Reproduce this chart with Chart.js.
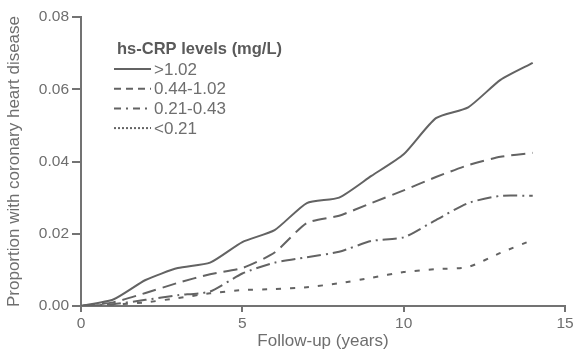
<!DOCTYPE html>
<html>
<head>
<meta charset="utf-8">
<script src="https://cdn.jsdelivr.net/npm/chart.js@4"></script>
<style>
  body { margin: 0; background: #fff; }
  #wrap { width: 576px; height: 352px; }
</style>
</head>
<body>
<div id="wrap"><canvas id="chd" width="576" height="352"></canvas></div>
<script>
// years of follow-up
var years = [0, 1, 2, 3, 4, 5, 6, 7, 8, 9, 10, 11, 12, 13, 14];

// cumulative proportion with CHD, by hs-CRP level
var crpHigh = [0, 0.0018, 0.0072, 0.0105, 0.012, 0.0177, 0.021, 0.0285, 0.030, 0.036, 0.042, 0.052, 0.055, 0.0626, 0.0673];
var crpMidHigh = [0, 0.001, 0.0036, 0.0064, 0.0088, 0.0105, 0.0148, 0.023, 0.025, 0.0285, 0.032, 0.0357, 0.039, 0.0413, 0.0424];
var crpMidLow = [0, 0.0005, 0.0017, 0.003, 0.004, 0.009, 0.012, 0.0135, 0.015, 0.018, 0.019, 0.0238, 0.0285, 0.0305, 0.0305];
var crpLow = [0, 0.0004, 0.001, 0.0022, 0.0035, 0.0044, 0.0047, 0.0052, 0.0063, 0.0078, 0.0094, 0.0102, 0.0108, 0.0147, 0.0183];

var groupLabels = ['>1.02', '0.44-1.02', '0.21-0.43', '<0.21'];
var legendTitle = 'hs-CRP levels (mg/L)';

var yTicks = [0, 0.02, 0.04, 0.06, 0.08];
var xTicks = [0, 5, 10, 15];

var grey = '#636363';
var axisGrey = '#737373';
var textGrey = '#6e6e6e';
var fontFam = '"Liberation Sans", Arial, sans-serif';

function toPoints(vals) {
    return vals.map(function(v, i) { return { x: years[i], y: v }; });
}

// dash pattern in plot, and a shorter one for the legend sample
var dashes = [[], [14, 7], [14, 5, 2, 5], [5, 9]];
var legendDashes = [[], [7, 5], [7, 5, 2, 5], [2, 2]];
var allSeries = [crpHigh, crpMidHigh, crpMidLow, crpLow];

var datasets = allSeries.map(function(s, i) {
    return {
        label: groupLabels[i],
        data: toPoints(s),
        borderColor: grey,
        borderWidth: 2,
        borderDash: dashes[i],
        pointRadius: 0,
        tension: 0.2,
        fill: false
    };
});

// legend drawn inside the plot area, top left
var insideLegend = {
    id: 'insideLegend',
    afterDraw: function(chart) {
        var ctx = chart.ctx;
        var a = chart.chartArea;
        var x0 = a.left + 36;
        var y0 = a.top + 32;
        ctx.save();
        ctx.fillStyle = '#5a5a5a';
        ctx.textBaseline = 'middle';
        ctx.font = 'bold 16.5px ' + fontFam;
        ctx.fillText(legendTitle, x0, y0);
        ctx.font = '17px ' + fontFam;
        groupLabels.forEach(function(lab, i) {
            var y = y0 + 20 + i * 19.7;
            ctx.strokeStyle = grey;
            ctx.lineWidth = 2;
            ctx.setLineDash(legendDashes[i]);
            ctx.beginPath();
            ctx.moveTo(x0 - 3, y);
            ctx.lineTo(x0 + 34, y);
            ctx.stroke();
            ctx.fillStyle = textGrey;
            ctx.fillText(lab, x0 + 37, y + 1);
        });
        ctx.restore();
    }
};

var ctx = document.getElementById('chd').getContext('2d');
var myChart = new Chart(ctx, {
    type: 'line',
    data: { datasets: datasets },
    plugins: [insideLegend],
    options: {
        responsive: false,
        animation: false,
        layout: { padding: { top: 17, right: 11, left: 4, bottom: 0 } },
        plugins: {
            legend: { display: false },
            tooltip: { enabled: false }
        },
        scales: {
            x: {
                type: 'linear',
                min: 0,
                max: 15,
                afterBuildTicks: function(scale) {
                    scale.ticks = xTicks.map(function(v) { return { value: v }; });
                },
                afterFit: function(scale) { scale.height = 46; },
                border: { color: axisGrey, width: 2 },
                grid: { drawOnChartArea: false, drawTicks: true, tickLength: 6, color: axisGrey, lineWidth: 2 },
                ticks: { color: textGrey, font: { family: fontFam, size: 15.5 }, padding: 2, maxRotation: 0 },
                title: { display: true, text: 'Follow-up (years)', color: textGrey, font: { family: fontFam, size: 17 }, padding: { top: -2, bottom: 0 } }
            },
            y: {
                min: 0,
                max: 0.08,
                afterBuildTicks: function(scale) {
                    scale.ticks = yTicks.map(function(v) { return { value: v }; });
                },
                afterFit: function(scale) { scale.width = 77; },
                border: { color: axisGrey, width: 2 },
                grid: { drawOnChartArea: false, drawTicks: true, tickLength: 9, color: axisGrey, lineWidth: 2 },
                ticks: {
                    color: textGrey,
                    font: { family: fontFam, size: 15.5 },
                    padding: 3,
                    callback: function(v) { return v.toFixed(2); }
                },
                title: { display: true, text: 'Proportion with coronary heart disease', color: textGrey, font: { family: fontFam, size: 17 }, padding: { top: 0, bottom: 0 } }
            }
        }
    }
});
</script>
</body>
</html>
